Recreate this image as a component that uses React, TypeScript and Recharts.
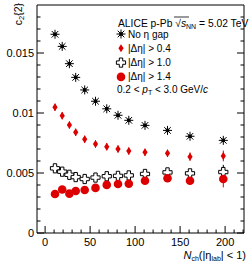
import React from 'react';
import { ScatterChart, Scatter, XAxis, YAxis, ErrorBar } from 'recharts';

const N_CH = [11, 19, 27, 34, 44, 56, 68.5, 81, 93, 111, 136, 161, 198];
const NO_GAP = [0.01656, 0.01555, 0.01411, 0.01297, 0.01192, 0.01098, 0.01035, 0.00981, 0.00939, 0.00897, 0.00855, 0.00806, 0.00772];
const ETA_04 = [0.01048, 0.00978, 0.009, 0.00839, 0.00781, 0.00742, 0.00719, 0.007, 0.00683, 0.00672, 0.00664, 0.00636, 0.00642];
const ETA_10 = [0.00539, 0.00511, 0.00485, 0.00466, 0.0045, 0.00462, 0.00473, 0.00476, 0.0048, 0.00492, 0.00505, 0.00497, 0.00508];
const ETA_14 = [0.00325, 0.00362, 0.00328, 0.0035, 0.00358, 0.00376, 0.00401, 0.00408, 0.00411, 0.00436, 0.00456, 0.00436, 0.0045];
const ERR_04 = [0.0003, 0.0003, 0.0003, 0.0003, 0.0003, 0.0003, 0.0003, 0.0003, 0.0003, 0.0003, 0.0003, 0.00035, 0.00045];
const ERR_10 = [0, 0, 0, 0, 0, 0, 0, 0, 0, 0, 0, 0, 0.0006];
const ERR_14 = [0, 0, 0, 0, 0, 0, 0, 0, 0, 0, 0, 0.0002, 0.0007];
const SERIES_NAMES = ['No η gap', '|Δη| > 0.4', '|Δη| > 1.0', '|Δη| > 1.4'];

const X_TICKS = Array.from({ length: 23 }, (_, i) => i * 10);
const Y_TICKS = Array.from({ length: 19 }, (_, i) => i / 1000);
const X_MAJOR = [0, 50, 100, 150, 200];
const Y_MAJOR = [0, 0.005, 0.01, 0.015];

const RED = '#dd0000';
const FONT = '"Liberation Sans", Arial, sans-serif';

const toRows = (ys: number[], errs?: number[]) =>
  N_CH.map((x, i) => ({ x, y: ys[i], err: errs ? errs[i] : 0 }));

const Star = ({ cx, cy }: any) => (
  <g stroke="#000" strokeWidth={1}>
    <line x1={cx - 4.5} y1={cy} x2={cx + 4.5} y2={cy} />
    <line x1={cx} y1={cy - 4.5} x2={cx} y2={cy + 4.5} />
    <line x1={cx - 3.3} y1={cy - 3.3} x2={cx + 3.3} y2={cy + 3.3} />
    <line x1={cx - 3.3} y1={cy + 3.3} x2={cx + 3.3} y2={cy - 3.3} />
    <rect x={cx - 1.2} y={cy - 1.2} width={2.4} height={2.4} fill="#000" />
  </g>
);

const Diamond = ({ cx, cy }: any) => (
  <polygon points={`${cx},${cy - 4} ${cx + 2.6},${cy} ${cx},${cy + 4} ${cx - 2.6},${cy}`} fill={RED} />
);

const OpenCross = ({ cx, cy }: any) => {
  const a = 1.7;
  const l = 4.6;
  const p = [
    [-a, -l], [a, -l], [a, -a], [l, -a], [l, a], [a, a],
    [a, l], [-a, l], [-a, a], [-l, a], [-l, -a], [-a, -a],
  ];
  return <polygon points={p.map(([dx, dy]) => `${cx + dx},${cy + dy}`).join(' ')} fill="#fff" stroke="#000" strokeWidth={1} />;
};

const Dot = ({ cx, cy }: any) => <circle cx={cx} cy={cy} r={4.3} fill={RED} />;

const MARKERS = [Star, Diamond, OpenCross, Dot];

const BottomTick = ({ x, y, payload }: any) => {
  const major = X_MAJOR.includes(payload.value);
  return (
    <g>
      <line x1={x} y1={y} x2={x} y2={y - (major ? 7 : 3.5)} stroke="#000" />
      {major && (
        <text x={x} y={y + 13} textAnchor="middle" fontSize={11} fontFamily={FONT} fill="#000">
          {payload.value}
        </text>
      )}
    </g>
  );
};

const TopTick = ({ x, y, payload }: any) => {
  const major = X_MAJOR.includes(payload.value);
  return <line x1={x} y1={y} x2={x} y2={y + (major ? 7 : 3.5)} stroke="#000" />;
};

const isYMajor = (v: number) => Y_MAJOR.some((m) => Math.abs(m - v) < 1e-9);

const LeftTick = ({ x, y, payload }: any) => {
  const major = isYMajor(payload.value);
  return (
    <g>
      <line x1={x} y1={y} x2={x + (major ? 7 : 3.5)} y2={y} stroke="#000" />
      {major && (
        <text x={x - 3} y={y + 4} textAnchor="end" fontSize={11} fontFamily={FONT} fill="#000">
          {String(payload.value)}
        </text>
      )}
    </g>
  );
};

const RightTick = ({ x, y, payload }: any) => {
  const major = isYMajor(payload.value);
  return <line x1={x} y1={y} x2={x - (major ? 7 : 3.5)} y2={y} stroke="#000" />;
};

const Notes = () => (
  <g fontFamily={FONT} fill="#000">
    <text x={118} y={27} fontSize={10.3}>
      ALICE p-Pb √<tspan fontStyle="italic">s</tspan>
      <tspan fontSize={7} dy={2}>NN</tspan>
      <tspan dy={-2}> = 5.02 TeV</tspan>
    </text>
    <line x1={174} y1={17} x2={189} y2={17} stroke="#000" strokeWidth={0.8} />
    {SERIES_NAMES.map((name, i) => {
      const M = MARKERS[i];
      const cy = 34 + i * 14.3;
      return (
        <g key={name}>
          <M cx={121} cy={cy} />
          <text x={128} y={cy + 3.5} fontSize={10}>
            {name}
          </text>
        </g>
      );
    })}
    <text x={117} y={93} fontSize={10}>
      0.2 &lt; <tspan fontStyle="italic">p</tspan>
      <tspan fontSize={7} dy={2}>T</tspan>
      <tspan dy={-2}> &lt; 3.0 GeV/</tspan>
      <tspan fontStyle="italic">c</tspan>
    </text>
    <text x={246} y={259} textAnchor="end" fontSize={11}>
      <tspan fontStyle="italic">N</tspan>
      <tspan fontSize={7} dy={2}>ch</tspan>
      <tspan dy={-2}>(|η</tspan>
      <tspan fontSize={7} dy={2}>lab</tspan>
      <tspan dy={-2}>| &lt; 1)</tspan>
    </text>
    <text transform="translate(22,3) rotate(-90)" textAnchor="end" fontSize={10.5}>
      c<tspan fontSize={7.5} dy={2}>2</tspan>
      <tspan dy={-2}>{'{2}'}</tspan>
    </text>
  </g>
);

export default function App() {
  const series = [
    { data: toRows(NO_GAP), shape: Star },
    { data: toRows(ETA_04, ERR_04), shape: Diamond, err: RED },
    { data: toRows(ETA_10, ERR_10), shape: OpenCross, err: '#000' },
    { data: toRows(ETA_14, ERR_14), shape: Dot, err: RED },
  ];
  return (
    <div style={{ position: 'absolute', left: 0, top: 0, background: '#fff' }}>
      <ScatterChart width={249} height={268} margin={{ top: 4, right: 4, bottom: 34, left: 36 }}>
        <XAxis
          xAxisId="b"
          dataKey="x"
          type="number"
          domain={[-9, 221]}
          allowDataOverflow
          ticks={X_TICKS}
          interval={0}
          height={1}
          tickSize={0}
          tickMargin={0}
          tick={<BottomTick />}
          axisLine={{ stroke: '#000' }}
        />
        <XAxis
          xAxisId="t"
          orientation="top"
          type="number"
          domain={[-9, 221]}
          allowDataOverflow
          ticks={X_TICKS}
          interval={0}
          height={1}
          tickSize={0}
          tickMargin={0}
          tick={<TopTick />}
          axisLine={{ stroke: '#000' }}
        />
        <YAxis
          yAxisId="l"
          dataKey="y"
          type="number"
          domain={[0, 0.019]}
          allowDataOverflow
          ticks={Y_TICKS}
          interval={0}
          width={1}
          tickSize={0}
          tickMargin={0}
          tick={<LeftTick />}
          axisLine={{ stroke: '#000' }}
        />
        <YAxis
          yAxisId="r"
          orientation="right"
          type="number"
          domain={[0, 0.019]}
          allowDataOverflow
          ticks={Y_TICKS}
          interval={0}
          width={1}
          tickSize={0}
          tickMargin={0}
          tick={<RightTick />}
          axisLine={{ stroke: '#000' }}
        />
        {series.map((s, i) => (
          <Scatter key={i} xAxisId="b" yAxisId="l" data={s.data} shape={s.shape} isAnimationActive={false}>
            {s.err && <ErrorBar dataKey="err" direction="y" width={0} stroke={s.err} strokeWidth={1} />}
          </Scatter>
        ))}
        <Notes />
      </ScatterChart>
    </div>
  );
}
